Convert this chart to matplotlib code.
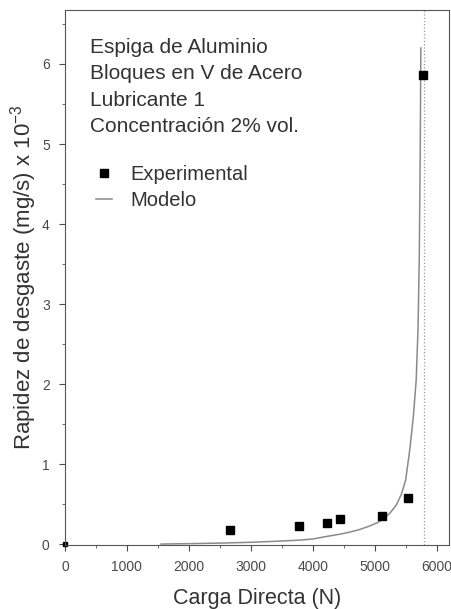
import matplotlib.pyplot as plt
from matplotlib.ticker import MultipleLocator

plt.rcParams['font.family'] = ['Liberation Sans', 'DejaVu Sans']

# datos experimentales
carga_exp = [0, 2660, 3775, 4225, 4440, 5115, 5545, 5777]
rapidez_exp = [0.0, 0.175, 0.225, 0.26, 0.31, 0.355, 0.575, 5.86]

# curva del modelo
carga_mod = [1550, 2000, 2500, 3000, 3500, 3800, 4000, 4150, 4300, 4450, 4600,
             4750, 4900, 5050, 5150, 5250, 5350, 5430, 5500, 5570, 5625, 5670,
             5700, 5720, 5735, 5745]
rapidez_mod = [0.0, 0.005, 0.012, 0.022, 0.038, 0.05, 0.063, 0.085, 0.105,
               0.125, 0.15, 0.18, 0.22, 0.27, 0.32, 0.39, 0.49, 0.62, 0.8,
               1.2, 1.6, 2.05, 2.7, 3.6, 4.9, 6.2]

limite = 5790

gris = '#4a4a4a'

fig = plt.figure(figsize=(4.52, 6.09), dpi=100)
ax = fig.add_axes([0.1438, 0.105, 0.8496, 0.8786])

ax.axvline(limite, color='#999999', lw=0.9, ls=':')
ax.plot(carga_mod, rapidez_mod, color='#8a8a8a', lw=1.1, label='Modelo')
ax.plot(carga_exp[1:], rapidez_exp[1:], 's', color='black', ms=5.5,
        label='Experimental')
ax.plot(carga_exp[:1], rapidez_exp[:1], 's', color='black', ms=2.5,
        clip_on=False)

ax.set_xlim(0, 6200)
ax.set_ylim(-0.0125, 6.675)
ax.xaxis.set_major_locator(MultipleLocator(1000))
ax.xaxis.set_minor_locator(MultipleLocator(500))
ax.yaxis.set_major_locator(MultipleLocator(1))
ax.yaxis.set_minor_locator(MultipleLocator(0.5))
ax.tick_params(which='both', direction='out', colors=gris, labelsize=10)
ax.tick_params(which='major', length=4)
ax.tick_params(which='minor', length=2.5)
ax.tick_params(axis='x', which='major', pad=7)
ax.tick_params(axis='y', which='major', pad=7)
for s in ax.spines.values():
    s.set_color('#555555')

ax.set_xlabel('Carga Directa (N)', fontsize=15.5, color='#333333', labelpad=10)
ax.set_ylabel(r'Rapidez de desgaste (mg/s) x 10$^{\mathregular{-3}}$',
              fontsize=16, color='#333333', labelpad=2)

texto = ['Espiga de Aluminio', 'Bloques en V de Acero', 'Lubricante 1',
         'Concentración 2% vol.']
for i, t in enumerate(texto):
    ax.text(0.064, 0.9196 - i * 0.0495, t, transform=ax.transAxes,
            fontsize=15, color='#333333', va='baseline')

h, l = ax.get_legend_handles_labels()
ax.legend(h[::-1], l[::-1], loc='upper left', bbox_to_anchor=(0.033, 0.745),
          frameon=False, fontsize=14.5, handlelength=0.8, handletextpad=0.9,
          labelspacing=0.35, labelcolor='#333333')

fig.savefig('out.png', dpi=100)
